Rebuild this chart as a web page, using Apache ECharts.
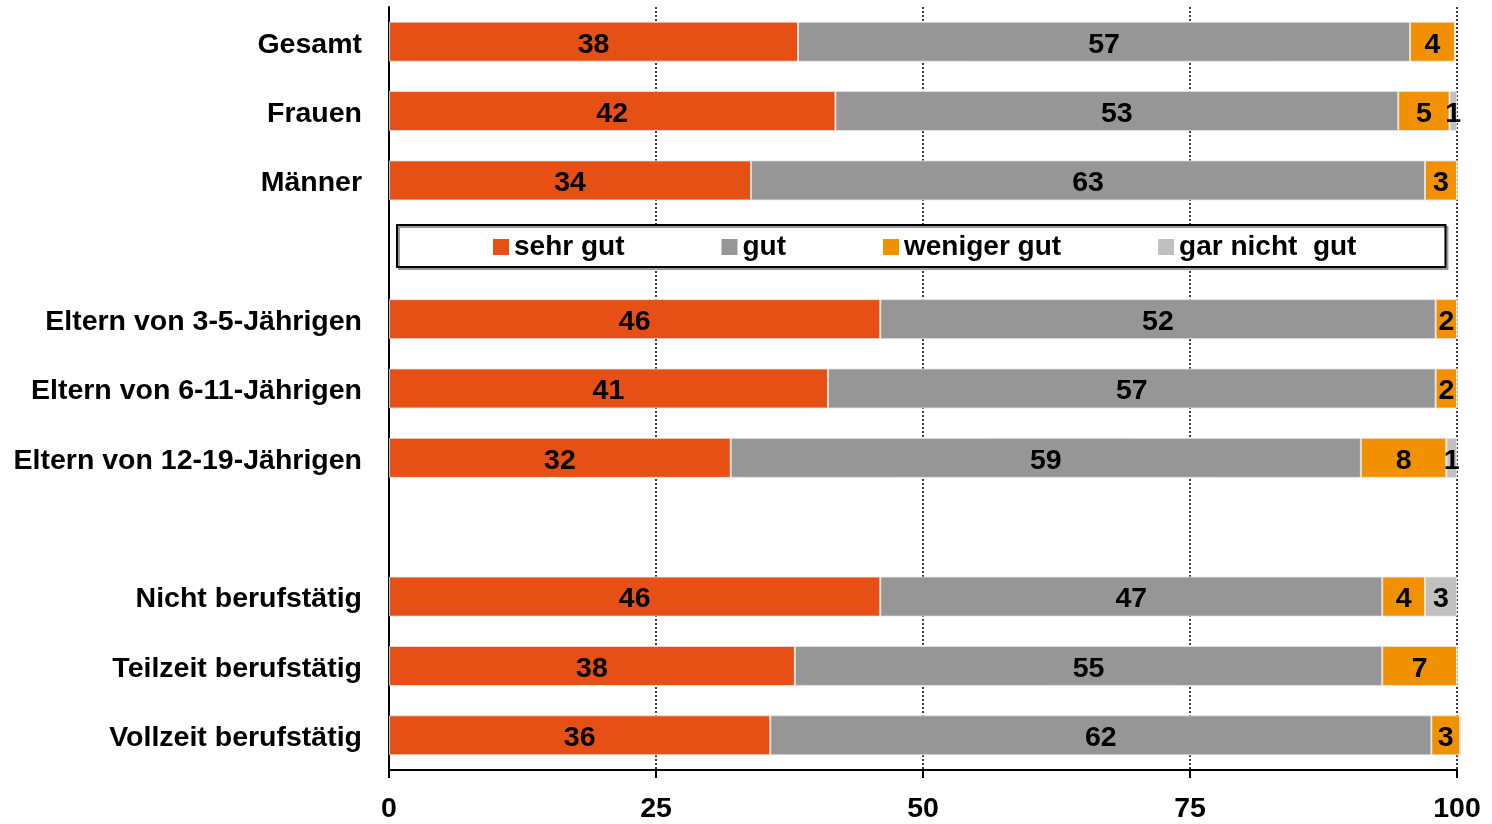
<!DOCTYPE html>
<html lang="de">
<head>
	<meta charset="utf-8">
	<title>Bewertung</title>
	<script src="https://cdn.jsdelivr.net/npm/echarts@6/dist/echarts.min.js"></script>
	<style type="text/css">
		html, body {margin:0;padding:0;background:#fff}
		#chart {width:1492px;height:824px}
	</style>
</head>
<body>
	<div id="chart"></div>
	<script>
		// categories, blank rows keep the gaps (legend sits in the first one)
		var categories = ["Gesamt", "Frauen", "Männer", " ",
			"Eltern von 3-5-Jährigen", "Eltern von 6-11-Jährigen", "Eltern von 12-19-Jährigen", "  ",
			"Nicht berufstätig", "Teilzeit berufstätig", "Vollzeit berufstätig"];
		var seriesNames = ["sehr gut", "gut", "weniger gut", "gar nicht  gut"];
		var sehrGut   = [38.3, 41.8, 33.9, null, 46.0, 41.1, 32.0, null, 46.0, 38.0, 35.7];
		var gut       = [57.3, 52.7, 63.1, null, 52.0, 56.9, 59.0, null, 47.0, 55.0, 61.9];
		var wenigerGut = [4.2, 4.8, 3.0, null, 2.0, 2.0, 8.0, null, 4.0, 7.0, 2.7];
		var garNicht  = [0, 0.7, 0, null, 0, 0, 1.0, null, 3.0, 0, 0];
		var xTicks = [0, 25, 50, 75, 100];

		var colors = ["#E65014", "#969696", "#F29100", "#C0C0C0"];
		var font = "'Liberation Sans', Arial, sans-serif";
		var fs = 28.5;

		var myChart = echarts.init(document.getElementById("chart"));

		function makeSeries(name, data, color) {
			return {
				name: name,
				type: "bar",
				stack: "total",
				barWidth: 40,
				clip: false,
				itemStyle: {
					color: color,
					borderColor: "rgba(230,230,230,0.8)",
					borderWidth: 1
				},
				label: {
					show: true,
					position: "inside",
					offset: [0, 3],
					color: "#000",
					fontSize: fs,
					fontWeight: "bold",
					fontFamily: font,
					formatter: function (p) {
						return p.value > 0 ? Math.round(p.value) : "";
					}
				},
				data: data
			};
		}

		var option = {
			animation: false,
			backgroundColor: "#fff",
			textStyle: {fontFamily: font},
			legend: {
				left: 397,
				top: 225,
				padding: [8, 89, 6, 96],
				itemGap: 97,
				itemWidth: 16,
				itemHeight: 16,
				icon: "rect",
				selectedMode: false,
				itemStyle: {borderWidth: 0},
				borderColor: "#000",
				borderWidth: 2,
				borderRadius: 0,
				backgroundColor: "#fff",
				shadowColor: "#999",
				shadowOffsetX: 2,
				shadowOffsetY: 2,
				shadowBlur: 0,
				textStyle: {
					color: "#000",
					fontSize: 28,
					fontWeight: "bold",
					fontFamily: font,
					lineHeight: 28
				},
				data: seriesNames
			},
			grid: {
				left: 389,
				right: 35,
				top: 7,
				bottom: 52,
				containLabel: false
			},
			xAxis: {
				type: "value",
				min: xTicks[0],
				max: xTicks[xTicks.length - 1],
				interval: 25,
				axisLine: {show: true, lineStyle: {color: "#000", width: 2}},
				axisTick: {show: true, length: 8, lineStyle: {color: "#000", width: 2}},
				axisLabel: {
					color: "#000",
					fontSize: fs,
					fontWeight: "bold",
					fontFamily: font,
					margin: 25
				},
				splitLine: {
					show: true,
					lineStyle: {color: "#000", type: [2, 2], width: 1.5}
				}
			},
			yAxis: {
				type: "category",
				inverse: true,
				data: categories,
				axisLine: {show: true, lineStyle: {color: "#000", width: 2}},
				axisTick: {show: false},
				axisLabel: {
					margin: 27,
					formatter: function (v) {
						return "{c|" + v + "}";
					},
					rich: {
						c: {
							color: "#000",
							fontSize: fs,
							fontWeight: "bold",
							fontFamily: font,
							padding: [6, 0, 0, 0]
						}
					}
				}
			},
			series: [
				makeSeries(seriesNames[0], sehrGut, colors[0]),
				makeSeries(seriesNames[1], gut, colors[1]),
				makeSeries(seriesNames[2], wenigerGut, colors[2]),
				makeSeries(seriesNames[3], garNicht, colors[3])
			]
		};

		myChart.setOption(option);
	</script>
</body>
</html>
